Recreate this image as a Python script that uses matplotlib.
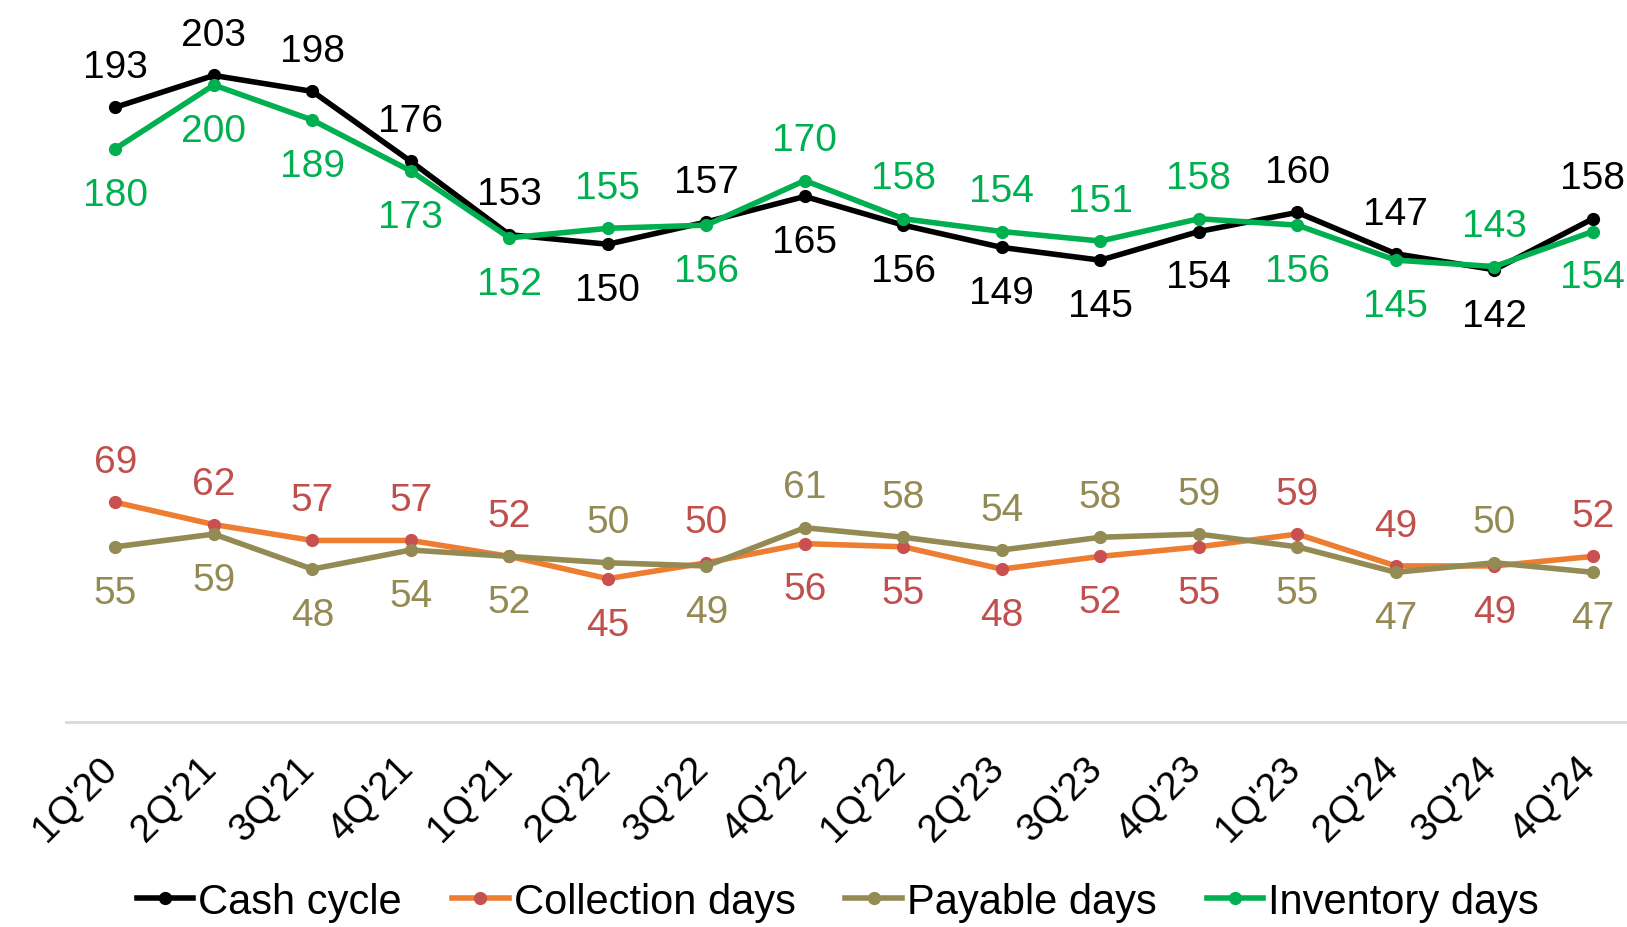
import matplotlib
matplotlib.use("Agg")
from matplotlib import pyplot as plt
from matplotlib.transforms import ScaledTranslation

plt.rcParams['font.family'] = ['Liberation Sans', 'DejaVu Sans']

quarters = ["1Q'20", "2Q'21", "3Q'21", "4Q'21", "1Q'21", "2Q'22", "3Q'22", "4Q'22",
            "1Q'22", "2Q'23", "3Q'23", "4Q'23", "1Q'23", "2Q'24", "3Q'24", "4Q'24"]

cash_cycle = [193, 203, 198, 176, 153, 150, 157, 165, 156, 149, 145, 154, 160, 147, 142, 158]
collection_days = [69, 62, 57, 57, 52, 45, 50, 56, 55, 48, 52, 55, 59, 49, 49, 52]
payable_days = [55, 59, 48, 54, 52, 50, 49, 61, 58, 54, 58, 59, 55, 47, 50, 47]
inventory_days = [180, 200, 189, 173, 152, 155, 156, 170, 158, 154, 151, 158, 156, 145, 143, 154]

# label side for each point: 1 above, -1 below
cash_side = [1, 1, 1, 1, 1, -1, 1, -1, -1, -1, -1, -1, 1, 1, -1, 1]
collection_side = [1, 1, 1, 1, 1, -1, 1, -1, -1, -1, -1, -1, 1, 1, -1, 1]
payable_side = [-1, -1, -1, -1, -1, 1, -1, 1, 1, 1, 1, 1, -1, -1, 1, -1]
inventory_side = [-1, -1, -1, -1, -1, 1, -1, 1, 1, 1, 1, 1, -1, -1, 1, -1]

series = [
    ('Cash cycle', cash_cycle, cash_side, '#000000', '#000000', '#000000'),
    ('Collection days', collection_days, collection_side, '#ED7D31', '#C9504F', '#C0504D'),
    ('Payable days', payable_days, payable_side, '#948A54', '#948A54', '#948A54'),
    ('Inventory days', inventory_days, inventory_side, '#00B050', '#00B050', '#00B050'),
]

fig = plt.figure(figsize=(16.27, 9.28), dpi=100)
ax = fig.add_axes([0.0406, 0.2209, 0.9687, 0.7791])

x = list(range(len(quarters)))
for name, vals, sides, color, mcolor, tcolor in series:
    ax.plot(x, vals, color=color, lw=4, marker='o', markersize=8.5,
            markerfacecolor=mcolor, markeredgecolor=mcolor, label=name)
    for xi, v, s in zip(x, vals, sides):
        ax.annotate(str(v), (xi, v), xytext=(0, 31 * s - 2), textcoords='offset points',
                    ha='center', va='center', fontsize=28, color=tcolor,
                    annotation_clip=False)

ax.set_xlim(-0.5, 15.5)
ax.set_ylim(0, 227)
ax.set_yticks([])
ax.set_xticks(x)
ax.set_xticklabels(quarters, rotation=45, ha='right', rotation_mode='anchor', fontsize=28)
ax.tick_params(axis='x', length=0, pad=14)
shift = ScaledTranslation(-0.16, -0.08, fig.dpi_scale_trans)
for lbl in ax.get_xticklabels():
    lbl.set_transform(lbl.get_transform() + shift)
for side in ['top', 'right', 'left']:
    ax.spines[side].set_visible(False)
ax.spines['bottom'].set_color('#D9D9D9')
ax.spines['bottom'].set_linewidth(2)

fig.legend(loc='center', bbox_to_anchor=(0.515, 0.027), ncol=4, frameon=False,
           fontsize=30, handlelength=1.36, handletextpad=0.12, columnspacing=1.2,
           borderpad=0)

fig.savefig('out.png', dpi=100)
